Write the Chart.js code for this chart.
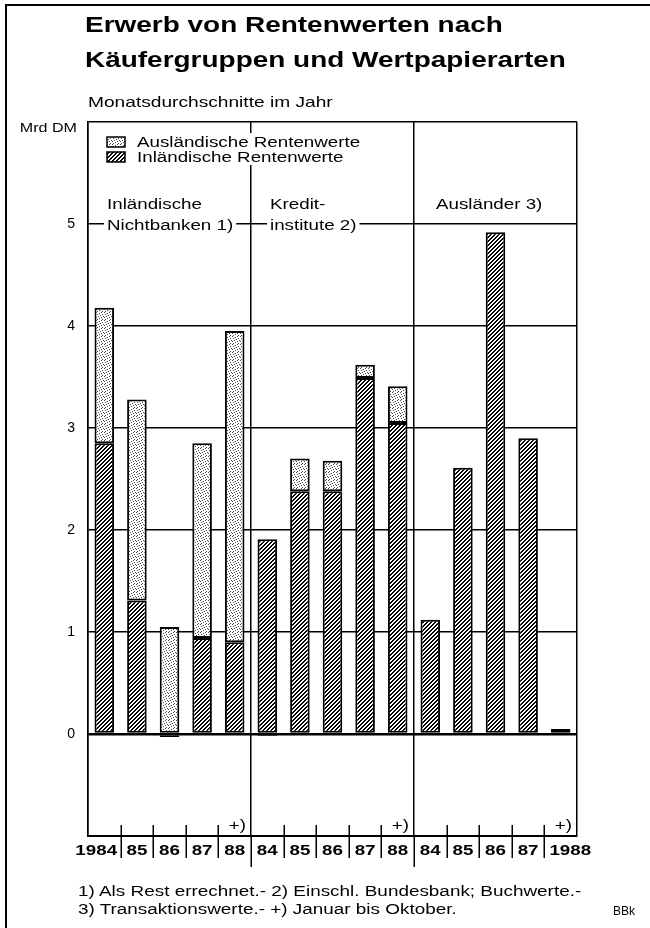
<!DOCTYPE html>
<html>
<head>
<meta charset="utf-8">
<script src="https://cdn.jsdelivr.net/npm/chart.js@4/dist/chart.umd.min.js"></script>
<style>
  body { margin: 0; background: #fff; }
  .page { position: relative; width: 650px; height: 928px; overflow: hidden; font-family: 'Liberation Sans', Arial, sans-serif; color: #000; }
  .frame { position: absolute; left: 5px; top: 4px; right: -10px; bottom: -10px; border-top: 2px solid #000; border-left: 2px solid #000; }
  canvas { position: absolute; left: 0; top: 0; }
  .txt { position: absolute; white-space: nowrap; transform-origin: left top; }
  .title { left: 85px; top: 8px; font-weight: bold; font-size: 21.5px; line-height: 35px; transform: scaleX(1.3); }
  .subtitle { left: 88px; top: 93px; font-size: 14.5px; line-height: 18px; transform: scaleX(1.32); }
  .notes { left: 78px; top: 882px; font-size: 14px; line-height: 18px; transform: scaleX(1.35); }
  .source { left: 613px; top: 904px; font-size: 12px; line-height: 14px; }
</style>
</head>
<body>
<div class="page">
  <div class="frame"></div>
  <canvas id="chart" width="650" height="928"></canvas>
  <div class="txt title">Erwerb von Rentenwerten nach<br>Käufergruppen und Wertpapierarten</div>
  <div class="txt subtitle">Monatsdurchschnitte im Jahr</div>
  <div class="txt notes">1) Als Rest errechnet.- 2) Einschl. Bundesbank; Buchwerte.-<br>3) Transaktionswerte.- +) Januar bis Oktober.</div>
  <div class="txt source">BBk</div>
</div>
<script>
// Jahre je Käufergruppe (3 Gruppen x 5 Jahre)
const categories = ['1984', '85', '86', '87', '88', '84', '85', '86', '87', '88', '84', '85', '86', '87', '1988']
const groupLabels = [['Inländische', 'Nichtbanken 1)'], ['Kredit-', 'institute 2)'], ['Ausländer 3)']]
const partialYear = [4, 9, 14] // +) Januar bis Oktober

// Mrd DM
const inlandValues = [2.85, 1.31, -0.03, 0.94, 0.90, 1.91, 2.38, 2.38, 3.49, 3.05, 1.12, 2.61, 4.92, 2.90, 0.05]
const auslandValues = [1.33, 1.97, 1.05, 1.91, 3.05, -0.02, 0.32, 0.30, 0.13, 0.36, null, null, null, null, null]

const yTicks = [0, 1, 2, 3, 4, 5]

const FONT = "'Liberation Sans', Arial, sans-serif"
const STRETCH = 1.34

function makePattern(isDark, dark) {
  const c = document.createElement('canvas')
  c.width = 8
  c.height = 8
  const g = c.getContext('2d')
  const img = g.createImageData(8, 8)
  for (let y = 0; y < 8; y++) {
    for (let x = 0; x < 8; x++) {
      const v = isDark(x, y) ? dark : 255
      const i = (y * 8 + x) * 4
      img.data[i] = img.data[i + 1] = img.data[i + 2] = v
      img.data[i + 3] = 255
    }
  }
  g.putImageData(img, 0, 0)
  return g.createPattern(c, 'repeat')
}

const hatch = makePattern((x, y) => (x + y) % 4 < 2, 0)
const stipple = makePattern((x, y) => (x + 2 * y) % 5 === 0, 70)

function drawText(ctx, text, x, y, align, font, sx = STRETCH) {
  ctx.save()
  ctx.font = font
  ctx.textAlign = align
  ctx.textBaseline = 'alphabetic'
  ctx.fillStyle = '#000'
  ctx.translate(x, y)
  ctx.scale(sx, 1)
  ctx.fillText(text, 0, 0)
  ctx.restore()
}

function textWidth(ctx, text, font, sx = STRETCH) {
  ctx.save()
  ctx.font = font
  const w = ctx.measureText(text).width * sx
  ctx.restore()
  return w
}

const decor = {
  id: 'decor',
  afterDraw(chart) {
    const { ctx, chartArea: a, scales } = chart
    const n = categories.length
    const slot = (a.right - a.left) / n
    const edge = (k) => a.left + k * slot
    const y5 = scales.y.getPixelForValue(5)
    const regular = `14px ${FONT}`
    const bold = `bold 14px ${FONT}`

    ctx.save()
    ctx.strokeStyle = '#000'
    ctx.lineWidth = 1.5

    // Teilstriche an der Achse
    for (let k = 1; k < n; k++) {
      const px = Math.round(edge(k)) + 0.25
      ctx.beginPath()
      if (k % 5 === 0) {
        ctx.moveTo(px, a.bottom)
        ctx.lineTo(px, a.bottom + 31)
      } else {
        ctx.moveTo(px, a.bottom - 11)
        ctx.lineTo(px, a.bottom + 22)
      }
      ctx.stroke()
    }

    // Jahreszahlen
    categories.forEach((label, i) => {
      const w = textWidth(ctx, label, bold)
      let left = (edge(i) + edge(i + 1)) / 2 - w / 2
      if (i === 0) left = Math.min(left, edge(1) - 3.5 - w)
      if (i === n - 1) left = Math.max(left, edge(i) + 5)
      drawText(ctx, label, left, a.bottom + 19, 'left', bold)
    })

    partialYear.forEach((i) => {
      drawText(ctx, '+)', edge(i + 1) - 5, a.bottom - 6, 'right', regular)
    })

    drawText(ctx, 'Mrd DM', a.left - 11, a.top + 9.5, 'right', `12px ${FONT}`)

    // Legende
    const legend = [['Ausländische Rentenwerte', stipple], ['Inländische Rentenwerte', hatch]]
    const tx = a.left + 49
    const widths = legend.map(([label]) => textWidth(ctx, label, regular))
    ctx.fillStyle = '#fff'
    ctx.fillRect(tx - 3, a.top + 11, Math.max(...widths) + 6, 32)
    legend.forEach(([label, fill], r) => {
      const top = a.top + 15 + r * 15
      ctx.fillStyle = fill
      ctx.fillRect(a.left + 19, top, 18, 10)
      ctx.lineWidth = 1.5
      ctx.strokeRect(a.left + 19, top, 18, 10)
      drawText(ctx, label, tx, top + 10, 'left', regular)
    })

    // Gruppenbeschriftung
    groupLabels.forEach((lines, g) => {
      const lx = edge(g * 5) + (lines.length > 1 ? 19 : 22)
      if (lines.length > 1) {
        drawText(ctx, lines[0], lx, y5 - 15, 'left', regular)
        const w = textWidth(ctx, lines[1], regular)
        ctx.fillStyle = '#fff'
        ctx.fillRect(lx - 3, y5 - 3, w + 6, 6)
        drawText(ctx, lines[1], lx, y5 + 5.5, 'left', regular)
      } else {
        drawText(ctx, lines[0], lx, y5 - 15.5, 'left', regular)
      }
    })
    ctx.restore()
  },
}

new Chart(document.getElementById('chart'), {
  type: 'bar',
  data: {
    labels: categories,
    datasets: [
      {
        label: 'Inländische Rentenwerte',
        data: inlandValues,
        backgroundColor: hatch,
        borderColor: '#000',
        borderWidth: 2,
        borderSkipped: false,
      },
      {
        label: 'Ausländische Rentenwerte',
        data: auslandValues,
        backgroundColor: stipple,
        borderColor: '#000',
        borderWidth: 2,
        borderSkipped: false,
      },
    ],
  },
  options: {
    responsive: false,
    animation: false,
    events: [],
    layout: { padding: { top: 122, right: 73, bottom: 92, left: 0 } },
    datasets: { bar: { categoryPercentage: 1, barPercentage: 0.6 } },
    plugins: { legend: { display: false }, tooltip: { enabled: false } },
    scales: {
      x: {
        stacked: true,
        offset: true,
        afterFit: (s) => { s.height = 0 },
        ticks: { display: false },
        border: { display: true, color: '#000', width: 2 },
        grid: {
          drawTicks: false,
          lineWidth: 1.5,
          color: (c) => (c.type === 'scale' || c.index % 5 === 0 ? '#000' : 'rgba(0,0,0,0)'),
        },
      },
      y: {
        stacked: true,
        min: -1,
        max: 6,
        afterFit: (s) => { s.width = 88 },
        afterBuildTicks: (s) => { s.ticks = [-1, ...yTicks, 6].map((v) => ({ value: v })) },
        ticks: {
          padding: 13,
          color: '#000',
          font: { family: FONT, size: 14 },
          callback: (v) => (yTicks.includes(v) ? v : ''),
        },
        border: { display: true, color: '#000', width: 1.5 },
        grid: {
          drawTicks: false,
          color: '#000',
          lineWidth: (c) => (c.tick && c.tick.value === 0 ? 2.5 : 1.5),
        },
      },
    },
  },
  plugins: [decor],
})
</script>
</body>
</html>
